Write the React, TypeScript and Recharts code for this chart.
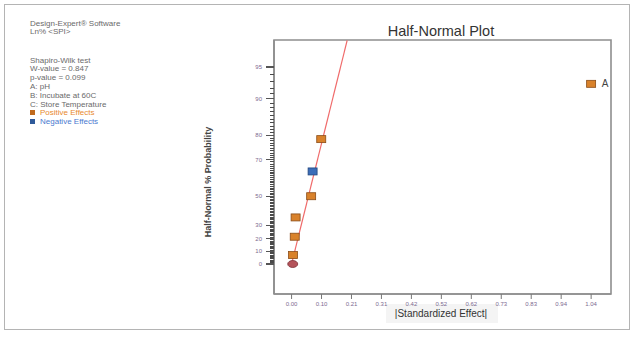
import { ScatterChart, Scatter, XAxis, YAxis, ReferenceLine, ReferenceArea, LabelList } from "recharts";

// half-normal plot values
const termLabels = ["", "", "", "", "", "", "", "A"];
const effects = [0.004, 0.005, 0.011, 0.014, 0.068, 0.073, 0.103, 1.04];
const probabilities = [0, 7.1, 21.4, 35.7, 50.0, 64.3, 78.6, 92.7];
const effectKinds = ["error", "pos", "pos", "pos", "pos", "neg", "pos", "pos"];

const xTicks = [0, 0.104, 0.208, 0.312, 0.416, 0.52, 0.624, 0.728, 0.832, 0.936, 1.04];
const yMajorTicks = [0, 10, 20, 30, 50, 70, 80, 90, 95];
const yMinorTicks = Array.from({ length: 94 }, (_, i) => i + 1).filter((p) => !yMajorTicks.includes(p));

// fitted line: effect vs probability at its two ends
const fitEffects = [0, 0.193];
const fitProbabilities = [0, 97.4];

const infoLines = ["Design-Expert\u00AE Software", "Ln% <SPI>"];
const testLines = ["Shapiro-Wilk test", "W-value = 0.847", "p-value = 0.099", "A: pH", "B: Incubate at 60C", "C: Store Temperature"];

// inverse normal cdf (Acklam)
function normInv(p: number) {
  const a = [-39.69683028665376, 220.9460984245205, -275.9285104469687, 138.357751867269, -30.66479806614716, 2.506628277459239];
  const b = [-54.47609879822406, 161.5858368580409, -155.6989798598866, 66.80131188771972, -13.28068155288572];
  const c = [-0.007784894002430293, -0.3223964580411365, -2.400758277161838, -2.549732539343734, 4.374664141464968, 2.938163982698783];
  const d = [0.007784695709041462, 0.3224671290700398, 2.445134137142996, 3.754408661907416];
  const pl = 0.02425;
  if (p < pl) {
    const q = Math.sqrt(-2 * Math.log(p));
    return (((((c[0] * q + c[1]) * q + c[2]) * q + c[3]) * q + c[4]) * q + c[5]) / ((((d[0] * q + d[1]) * q + d[2]) * q + d[3]) * q + 1);
  }
  if (p <= 1 - pl) {
    const q = p - 0.5;
    const r = q * q;
    return ((((((a[0] * r + a[1]) * r + a[2]) * r + a[3]) * r + a[4]) * r + a[5]) * q) / (((((b[0] * r + b[1]) * r + b[2]) * r + b[3]) * r + b[4]) * r + 1);
  }
  const q = Math.sqrt(-2 * Math.log(1 - p));
  return -(((((c[0] * q + c[1]) * q + c[2]) * q + c[3]) * q + c[4]) * q + c[5]) / ((((d[0] * q + d[1]) * q + d[2]) * q + d[3]) * q + 1);
}
const halfNormal = (pct: number) => normInv(0.5 + pct / 200);

const points = effects.map((e, i) => ({
  effect: e,
  z: halfNormal(probabilities[i]),
  kind: effectKinds[i],
  label: termLabels[i],
}));

const majorZ = yMajorTicks.map(halfNormal);
const yTicks = [...yMajorTicks, ...yMinorTicks].map(halfNormal);

const FONT = "'Liberation Sans', Arial, sans-serif";
const TICK_COLOR = "#7d6a90";
const AXIS = "#8e8e8e";

function Marker(props: any) {
  const { cx, cy, payload } = props;
  if (payload.kind === "error") {
    return <ellipse cx={cx} cy={cy} rx={5} ry={3.5} fill="#b4535a" stroke="#7a2f36" strokeWidth={0.8} />;
  }
  const neg = payload.kind === "neg";
  return (
    <rect x={cx - 4.5} y={cy - 3.5} width={9} height={7}
      fill={neg ? "#3b6db8" : "#d9822b"} stroke={neg ? "#22467e" : "#8a4c18"} strokeWidth={0.8} />
  );
}

function YTick(props: any) {
  const { x, y, payload } = props;
  const idx = majorZ.findIndex((m) => Math.abs(m - payload.value) < 1e-9);
  const major = idx >= 0;
  return (
    <g>
      <line x1={x - (major ? 8 : 4)} x2={x} y1={y} y2={y} stroke={major ? "#555" : "#4a4a4a"} strokeWidth={major ? 1.2 : 1}
        shapeRendering="crispEdges" />
      {major && (
        <text x={x - 12} y={y} dy={2} textAnchor="end" fontSize={6} fill={TICK_COLOR} fontFamily={FONT}>
          {yMajorTicks[idx]}
        </text>
      )}
    </g>
  );
}

function XTick(props: any) {
  const { x, y, payload } = props;
  return (
    <g>
      <line x1={x} x2={x} y1={y} y2={y + 5} stroke="#777" strokeWidth={1} />
      <text x={x} y={y + 12} textAnchor="middle" fontSize={6} fill={TICK_COLOR} fontFamily={FONT}>
        {payload.value.toFixed(2)}
      </text>
    </g>
  );
}

export default function App() {
  const xDomain: [number, number] = [-0.061, 1.109];
  const yDomain: [number, number] = [-0.2985, 2.229];
  return (
    <div style={{ position: "absolute", left: 0, top: 0, width: 635, height: 364, background: "#fff", fontFamily: FONT }}>
      <div style={{ position: "absolute", left: 4, top: 4, width: 626, height: 326, border: "1px solid #b4b4b4", boxSizing: "border-box" }} />

      <div style={{ position: "absolute", left: 30, top: 19.6, fontSize: 8, lineHeight: "8.8px", color: "#6a6a6a", whiteSpace: "nowrap" }}>
        {infoLines.map((l) => <div key={l}>{l}</div>)}
      </div>
      <div style={{ position: "absolute", left: 30, top: 56.6, fontSize: 8, lineHeight: "8.8px", color: "#6a6a6a", whiteSpace: "nowrap" }}>
        {testLines.map((l) => <div key={l}>{l}</div>)}
        <div style={{ color: "#e8892e" }}>
          <span style={{ display: "inline-block", width: 5, height: 5, background: "#c06a1e", marginRight: 5 }} />Positive Effects
        </div>
        <div style={{ color: "#4a7ad0" }}>
          <span style={{ display: "inline-block", width: 5, height: 5, background: "#2f5a9a", marginRight: 5 }} />Negative Effects
        </div>
      </div>

      <div style={{ position: "absolute", left: 341, width: 200, top: 23, textAlign: "center", fontSize: 14.5, color: "#333" }}>
        Half-Normal Plot
      </div>
      <div style={{ position: "absolute", left: 208 - 80, top: 182 - 6, width: 160, textAlign: "center", fontSize: 9, fontWeight: "bold", color: "#444", transform: "rotate(-90deg)", transformOrigin: "80px 6px", lineHeight: "12px" }}>
        Half-Normal % Probability
      </div>
      <div style={{ position: "absolute", left: 386, top: 304, width: 112, height: 19, background: "#f4f4f4" }} />
      <div style={{ position: "absolute", left: 341, width: 200, top: 307.5, textAlign: "center", fontSize: 10, color: "#333", lineHeight: "12px" }}>
        |Standardized Effect|
      </div>

      <div style={{ position: "absolute", left: 0, top: 0 }}>
        <ScatterChart width={635} height={364} margin={{ top: 40, right: 24, bottom: 0, left: 0 }}>
          <XAxis type="number" dataKey="effect" domain={xDomain} ticks={xTicks} interval={0} height={70}
            tickSize={0} tickMargin={0} tick={<XTick />} axisLine={{ stroke: AXIS, strokeWidth: 1.6 }} allowDataOverflow />
          <YAxis type="number" dataKey="z" domain={yDomain} ticks={yTicks} interval={0} width={274}
            tickSize={0} tickMargin={0} tick={<YTick />} axisLine={{ stroke: AXIS, strokeWidth: 1.6 }} allowDataOverflow />
          <ReferenceArea x1={xDomain[0]} x2={xDomain[1]} y1={yDomain[0]} y2={yDomain[1]} fill="none" stroke={AXIS} strokeWidth={1.6} ifOverflow="visible" />
          <ReferenceLine
            segment={[
              { x: fitEffects[0], y: halfNormal(fitProbabilities[0]) },
              { x: fitEffects[1], y: halfNormal(fitProbabilities[1]) },
            ]}
            stroke="#f06a6a" strokeWidth={1.2} ifOverflow="visible"
          />
          <Scatter data={points} isAnimationActive={false} shape={<Marker />}>
            <LabelList dataKey="label" position="right" offset={6} style={{ fontSize: 10, fill: "#444", fontFamily: FONT }} />
          </Scatter>
        </ScatterChart>
      </div>
    </div>
  );
}
